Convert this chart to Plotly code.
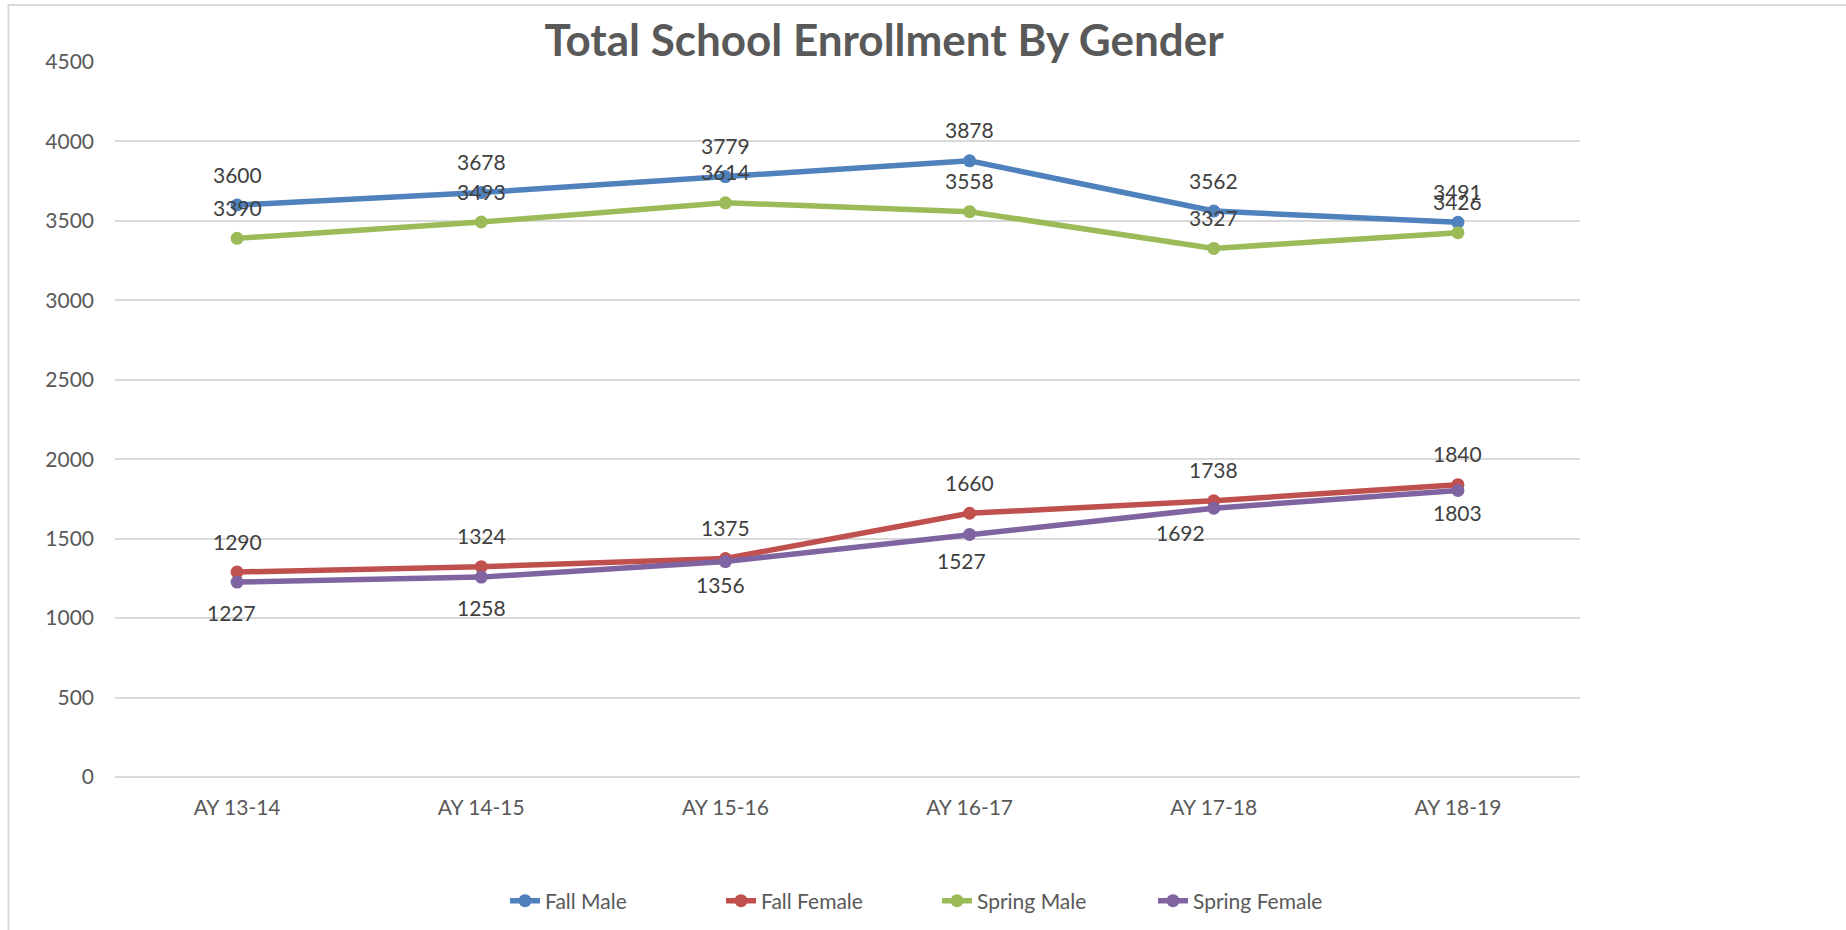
import plotly.graph_objects as go

categories = ["AY 13-14", "AY 14-15", "AY 15-16", "AY 16-17", "AY 17-18", "AY 18-19"]
fall_male = [3600, 3678, 3779, 3878, 3562, 3491]
fall_female = [1290, 1324, 1375, 1660, 1738, 1840]
spring_male = [3390, 3493, 3614, 3558, 3327, 3426]
spring_female = [1227, 1258, 1356, 1527, 1692, 1803]
y_ticks = [0, 500, 1000, 1500, 2000, 2500, 3000, 3500, 4000, 4500]

# label placement (pixels): vertical shift per point, horizontal shift per point
label_dy = {
    "Fall Male": [31] * 6,
    "Fall Female": [31] * 6,
    "Spring Male": [31] * 6,
    "Spring Female": [-30, -30, -23, -26, -24, -22],
}
label_dx = {
    "Fall Male": [0] * 6,
    "Fall Female": [0] * 6,
    "Spring Male": [0] * 6,
    "Spring Female": [-6, 0, -5, -8, -33, 0],
}

series = [
    ("Fall Male", fall_male, "#4F81BD"),
    ("Fall Female", fall_female, "#C0504D"),
    ("Spring Male", spring_male, "#9BBB59"),
    ("Spring Female", spring_female, "#8064A2"),
]

FONT = "Lato, Carlito, Calibri, sans-serif"
W, H = 1846, 930
L, R, T, B = 115, 266, 62, 153

fig = go.Figure()
annotations = []
for name, vals, color in series:
    fig.add_trace(go.Scatter(
        x=categories, y=vals, name=name, mode="lines+markers",
        line=dict(color=color, width=5.5),
        marker=dict(color=color, size=13),
    ))
    for c, v, dy, dx in zip(categories, vals, label_dy[name], label_dx[name]):
        annotations.append(dict(
            x=c, y=v, xref="x", yref="y", text=str(v), showarrow=False,
            yshift=dy, xshift=dx, font=dict(family=FONT, size=21, color="#404040"),
        ))

pw = W - L - R
ph = H - T - B
def px2paper_x(px):
    return (px - L) / pw
def px2paper_y(py):
    return (H - B - py) / ph

fig.update_layout(
    width=W, height=H,
    margin=dict(l=L, r=R, t=T, b=B, pad=0, autoexpand=False),
    paper_bgcolor="white", plot_bgcolor="white",
    font=dict(family=FONT, color="#595959", size=21),
    title=dict(text="<b>Total School Enrollment By Gender</b>", x=884 / W, xanchor="center",
               y=1 - 41 / H, yanchor="middle", xref="container", yref="container",
               font=dict(family=FONT, size=44, color="#595959")),
    xaxis=dict(type="category", categoryorder="array", categoryarray=categories,
               range=[-0.5, 5.5], showgrid=False, showline=False, zeroline=False,
               ticks="", ticklabelstandoff=16, tickfont=dict(size=21, color="#595959")),
    yaxis=dict(range=[0, 4500], tickvals=y_ticks, showgrid=True, gridcolor="#D9D9D9",
               gridwidth=2, zeroline=True, zerolinecolor="#D9D9D9", zerolinewidth=2,
               showline=False, ticks="", ticklabelstandoff=20,
               tickfont=dict(size=21, color="#595959")),
    legend=dict(orientation="h", x=px2paper_x(505), xanchor="left",
                y=px2paper_y(901), yanchor="middle", font=dict(size=21, color="#595959"),
                entrywidth=171, entrywidthmode="pixels", traceorder="normal"),
    annotations=annotations,
    shapes=[dict(type="rect", xref="paper", yref="paper",
                 x0=px2paper_x(8.5), x1=px2paper_x(W + 20),
                 y0=px2paper_y(H + 20), y1=px2paper_y(5),
                 line=dict(color="#D9D9D9", width=2), fillcolor="rgba(0,0,0,0)", layer="below")],
    showlegend=True,
)

fig.write_html("out.html", config={"displayModeBar": False},
               post_script="document.body.style.margin='0';document.body.style.overflow='hidden';")
